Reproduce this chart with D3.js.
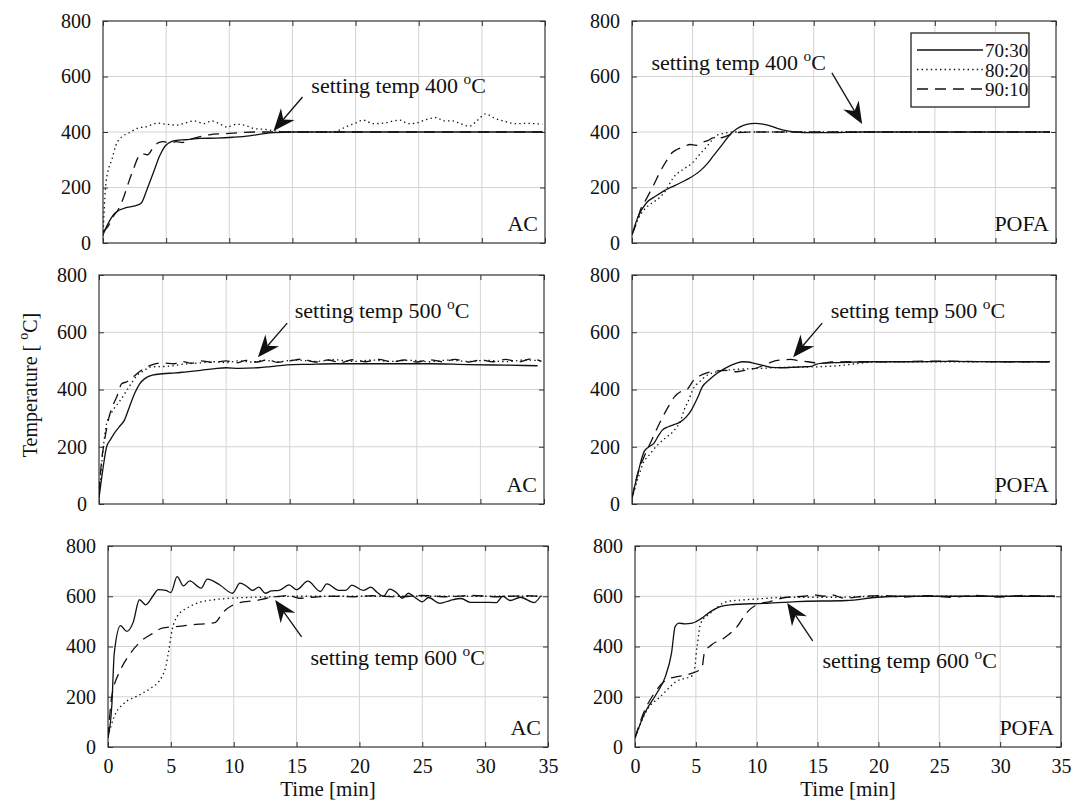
<!DOCTYPE html>
<html>
<head>
<meta charset="utf-8">
<script src="https://cdn.jsdelivr.net/npm/d3@7"></script>
<style>
  body { margin: 0; background: #fff; }
  svg text { font-family: "Liberation Serif", "Times New Roman", serif; fill: #111; }
</style>
</head>
<body>
<script>
// categories
const ratios = ["70:30", "80:20", "90:10"];
const materials = ["AC", "POFA"];
const setTemps = [400, 500, 600];
const xTicks = [0, 5, 10, 15, 20, 25, 30, 35];
const yTicks = [0, 200, 400, 600, 800];

// AC, 400 C   [time min, temp C]
const ac400_7030 = [[0,30],[0.4,70],[1,110],[1.9,128],[2.6,135],[3,142],[3.5,195],[4,255],[4.5,315],[5,353],[5.8,370],[6.5,372],[7.7,377],[9,378],[10.3,381],[11.6,386],[12.5,392],[13.5,398],[15,400],[20,400],[25,400],[30,400],[34.8,400]];
const ac400_8020 = [[0,25],[0.2,200],[0.4,260],[0.7,300],[1,350],[1.5,383],[2,395],[2.7,413],[3.5,420],[4.3,432],[5,428],[5.8,425],[6.5,432],[7.2,440],[8,430],[8.6,440],[9.2,430],[9.8,418],[10.6,428],[11.4,422],[12,412],[12.7,410],[13.5,405],[14.5,400],[16,400],[18,400],[18.6,405],[19.3,420],[20,432],[20.6,443],[21.4,430],[22.2,432],[23,440],[23.5,443],[24.2,430],[24.8,432],[25.6,445],[26.4,452],[27,440],[27.7,440],[28.3,430],[29,421],[29.6,440],[30.3,465],[31,450],[31.9,437],[32.7,430],[33.5,431],[34.8,428]];
const ac400_9010 = [[0,40],[0.4,60],[0.8,95],[1.2,120],[1.6,160],[2,215],[2.4,265],[2.8,310],[3.1,322],[3.5,318],[4,345],[4.4,362],[4.8,365],[5.3,360],[5.8,365],[6.3,362],[6.8,372],[7.4,380],[8.4,390],[10,395],[11,398],[12,400],[20,400],[30,400],[34.8,400]];

// POFA, 400 C
const pofa400_7030 = [[0,30],[0.5,95],[1.2,145],[2,170],[2.6,187],[3.3,202],[4,217],[4.8,235],[5.6,259],[6.2,285],[6.7,313],[7.4,352],[8.1,391],[8.6,410],[9.2,424],[9.8,430],[10.2,431],[10.8,428],[11.4,422],[12,413],[12.8,404],[14.2,398],[16.4,398],[19,400],[25,400],[30,400],[34.5,400]];
const pofa400_8020 = [[0,30],[0.5,85],[1,120],[1.5,140],[2.1,157],[2.8,190],[3.4,235],[4.2,265],[5,289],[5.6,320],[6.2,349],[6.6,370],[7,388],[7.6,395],[8.4,400],[12,400],[20,400],[34.5,400]];
const pofa400_9010 = [[0,30],[0.35,70],[0.7,120],[1.2,160],[1.8,210],[2.3,255],[2.9,300],[3.3,325],[3.7,337],[4.2,345],[4.8,355],[5.3,352],[5.8,363],[6.3,370],[6.7,379],[7.2,378],[7.8,385],[8.2,392],[8.7,398],[10,400],[20,400],[34.5,400]];

// AC, 500 C
const ac500_7030 = [[0,20],[0.3,120],[0.6,200],[0.9,225],[1.2,247],[1.6,270],[2,293],[2.4,340],[2.8,386],[3.2,420],[3.6,438],[4.2,450],[5,455],[6,458],[6.7,461],[8,467],[9,472],[10,476],[11,474],[12.5,476],[13.5,480],[14.8,486],[16.5,488],[18.5,490],[21,490],[23.7,490],[26,490],[29,487],[32,485],[34.5,483]];
const ac500_8020 = [[0,20],[0.3,180],[0.6,282],[1,320],[1.4,346],[1.8,370],[2.2,398],[2.6,425],[3,450],[3.5,465],[4.1,479],[5.4,481],[6.5,488],[8,493],[9,497],[10,494],[11,500],[12,496],[13,502],[14,497],[15.5,503],[17,498],[18.5,504],[20,498],[21.5,503],[23,498],[24.5,502],[26,497],[27.5,503],[29,498],[30.5,502],[32,497],[33.5,503],[34.8,500]];
const ac500_9010 = [[0,40],[0.2,150],[0.4,212],[0.8,305],[1.1,345],[1.4,375],[1.8,421],[2.2,427],[2.6,440],[3,456],[3.5,472],[4.1,485],[5,493],[5.9,490],[6.5,498],[7.3,492],[8,500],[9,495],[10,500],[10.8,493],[11.6,502],[12.4,496],[13.3,504],[14,495],[15,500],[16,506],[17,496],[18,503],[19,494],[20,504],[21,497],[22,505],[23,496],[24,503],[25,496],[26,504],[27,497],[28,505],[29,496],[30,503],[31,497],[32,505],[33,496],[34,507],[34.8,498]];

// POFA, 500 C
const pofa500_7030 = [[0,20],[0.5,110],[1,183],[1.4,200],[1.8,212],[2.2,240],[2.5,258],[3,270],[3.5,278],[4,287],[4.5,305],[4.9,328],[5.4,370],[5.8,409],[6.4,435],[7,456],[7.6,472],[8.2,485],[8.7,493],[9.1,497],[9.6,496],[10.1,491],[10.8,484],[11.5,477],[12.3,476],[13.1,477],[14,479],[14.8,481],[15.2,488],[15.6,491],[17,494],[17.8,495],[20,497],[23,497],[26,498],[30,497],[34.5,497]];
const pofa500_8020 = [[0,20],[0.5,90],[1,150],[1.3,165],[2.1,206],[2.8,232],[3.5,258],[4,290],[4.3,328],[4.7,365],[5,398],[5.6,428],[6.2,450],[6.8,460],[7.3,465],[8.5,470],[10.1,473],[12.3,477],[15,479],[17,483],[19.1,493],[20.2,497],[25,497],[30,497],[34.5,497]];
const pofa500_9010 = [[0,20],[0.5,110],[1,165],[1.7,230],[2.4,293],[3,340],[3.5,374],[4,392],[4.5,398],[5.1,433],[5.6,448],[6.2,458],[7,465],[7.9,467],[8.6,462],[9.3,467],[10,472],[10.9,485],[11.5,496],[12,502],[12.6,504],[13.1,505],[13.8,500],[14.5,497],[15.6,491],[16.5,496],[18,497],[21,497],[25,499],[30,497],[34.5,497]];

// AC, 600 C
const ac600_7030 = [[0,36],[0.3,162],[0.5,374],[1,483],[1.5,460],[2,496],[2.5,586],[3,566],[3.6,603],[4,626],[4.6,623],[5,615],[5.5,678],[6,641],[6.5,661],[7.4,632],[7.9,668],[8.9,645],[9.9,612],[10.5,652],[11,641],[11.5,623],[12,636],[12.5,612],[13,621],[13.6,623],[14.4,645],[15,626],[15.9,660],[16.9,619],[17.4,649],[18.4,623],[18.9,623],[19.4,644],[20.3,623],[20.9,636],[21.4,616],[21.9,600],[22.4,628],[23,612],[23.4,592],[23.9,612],[24.4,596],[25,578],[25.5,595],[26.4,572],[27.2,583],[28.1,591],[28.8,576],[29.7,576],[30.9,575],[31.4,600],[32,583],[32.8,596],[33.9,575],[34.4,600]];
const ac600_8020 = [[0,42],[0.5,122],[1.3,175],[2.3,202],[3.4,234],[4,258],[4.3,281],[4.6,320],[4.8,374],[5.1,466],[5.5,520],[6.3,553],[7.3,576],[8.4,586],[9.4,591],[11,595],[13,598],[15,600],[20,600],[25,600],[30,600],[34.5,600]];
const ac600_9010 = [[0,36],[0.3,201],[1,307],[1.8,374],[2.6,420],[3.6,453],[4.3,473],[5.3,479],[6,482],[6.5,486],[7.3,489],[8.5,495],[9.2,539],[9.8,561],[10.5,575],[11,579],[11.8,583],[12.6,592],[13.1,596],[14.4,603],[15.2,592],[16.3,596],[17.8,600],[19.5,598],[21,602],[23,597],[25,603],[27,598],[29,603],[31,598],[33,602],[34.5,600]];

// POFA, 600 C
const pofa600_7030 = [[0,36],[0.8,135],[1.8,215],[2.5,281],[3,374],[3.3,480],[3.6,493],[4.1,490],[4.7,493],[5.4,510],[6.2,539],[7,559],[7.8,566],[10.6,572],[13.3,579],[17.4,583],[19.9,596],[22,600],[25,600],[30,600],[34.5,600]];
const pofa600_8020 = [[0,36],[1,148],[2.1,201],[3.4,261],[4.8,287],[5.1,400],[5.4,493],[6.2,533],[7.6,579],[10,589],[12.8,596],[16.1,596],[20.2,600],[25,600],[30,600],[34.5,600]];
const pofa600_9010 = [[0,36],[0.7,135],[1.6,215],[2.6,268],[3.6,281],[4.5,291],[5.5,314],[5.7,374],[6.3,407],[7.3,433],[8.4,480],[9.2,536],[10,566],[11.1,579],[12.5,596],[13.9,600],[14.6,606],[15.5,600],[16.1,606],[17.2,592],[18.8,600],[20.5,603],[22,597],[24,602],[26,596],[28,603],[30,597],[32,603],[34.5,599]];

// arrow annotations: [tip t, tip T, tail t, tail T, text t, text T]
const notes = [
  [13.5, 404, 15.8, 526, 16.5, 540],
  [19.0, 429, 16.5, 613, 1.6, 623],
  [12.5, 513, 14.8, 632, 15.4, 650],
  [13.3, 513, 15.7, 632, 16.4, 650],
  [13.3, 585, 15.4, 438, 16.1, 326],
  [12.5, 573, 14.6, 422, 15.4, 314]
];

const series = [
  [ac400_7030, ac400_8020, ac400_9010],
  [pofa400_7030, pofa400_8020, pofa400_9010],
  [ac500_7030, ac500_8020, ac500_9010],
  [pofa500_7030, pofa500_8020, pofa500_9010],
  [ac600_7030, ac600_8020, ac600_9010],
  [pofa600_7030, pofa600_8020, pofa600_9010]
];

// panel boxes as measured on the figure: left, top, right, bottom
const boxes = [
  [103, 21, 545, 243], [632, 21, 1056, 243],
  [99, 275, 544, 504], [632, 275, 1056, 504],
  [108, 546, 548, 747], [635, 546, 1061, 747]
];

const dashes = [null, "1.4 3.2", "11 7"];

const svg = d3.select("body").append("svg")
  .attr("width", 1072).attr("height", 804);

function sup(sel, before, after) {
  sel.append("tspan").text(before);
  sel.append("tspan").attr("dy", -9).attr("font-size", "0.7em").text("o");
  sel.append("tspan").attr("dy", 9).text(after);
}

boxes.forEach((b, i) => {
  const [x0, y0, x1, y1] = b;
  const x = d3.scaleLinear().domain([0, 35]).range([x0, x1]);
  const y = d3.scaleLinear().domain([0, 800]).range([y1, y0]);
  const g = svg.append("g");
  const row = Math.floor(i / 2);

  // grid
  g.selectAll(".gx").data(xTicks.slice(1, -1)).enter().append("line")
    .attr("x1", d => x(d)).attr("x2", d => x(d)).attr("y1", y0).attr("y2", y1)
    .attr("stroke", "#d4d4d4").attr("stroke-width", 1);
  g.selectAll(".gy").data(yTicks.slice(1, -1)).enter().append("line")
    .attr("x1", x0).attr("x2", x1).attr("y1", d => y(d)).attr("y2", d => y(d))
    .attr("stroke", "#d4d4d4").attr("stroke-width", 1);

  // axes with inward ticks on all sides
  const fmt = row === 2 ? d3.format("d") : () => "";
  g.append("g").attr("transform", `translate(0,${y1})`)
    .call(d3.axisBottom(x).tickValues(xTicks).tickSizeInner(-5).tickSizeOuter(0).tickPadding(12).tickFormat(fmt));
  g.append("g").attr("transform", `translate(0,${y0})`)
    .call(d3.axisTop(x).tickValues(xTicks).tickSizeInner(-5).tickSizeOuter(0).tickFormat(""));
  g.append("g").attr("transform", `translate(${x0},0)`)
    .call(d3.axisLeft(y).tickValues(yTicks).tickSizeInner(-5).tickSizeOuter(0).tickPadding(12));
  g.append("g").attr("transform", `translate(${x1},0)`)
    .call(d3.axisRight(y).tickValues(yTicks).tickSizeInner(-5).tickSizeOuter(0).tickFormat(""));
  g.selectAll(".domain").remove();
  g.selectAll(".tick line").attr("stroke", "#333");
  g.selectAll(".tick text").attr("font-size", 20).attr("font-family", "Liberation Serif").attr("fill", "#111");

  g.append("rect").attr("x", x0).attr("y", y0).attr("width", x1 - x0).attr("height", y1 - y0)
    .attr("fill", "none").attr("stroke", "#333").attr("stroke-width", 1.2);

  // curves
  const clipId = "clip" + i;
  svg.append("clipPath").attr("id", clipId).append("rect")
    .attr("x", x0).attr("y", y0).attr("width", x1 - x0).attr("height", y1 - y0);
  const line = d3.line().x(d => x(d[0])).y(d => y(d[1])).curve(d3.curveMonotoneX);
  g.append("g").attr("clip-path", `url(#${clipId})`)
    .selectAll("path").data(series[i]).enter().append("path")
    .attr("d", line)
    .attr("fill", "none").attr("stroke", "#111").attr("stroke-width", 1.3)
    .attr("stroke-dasharray", (d, k) => dashes[k]);

  // material label
  g.append("text").attr("x", x1 - 7).attr("y", y1 - 12).attr("text-anchor", "end")
    .attr("font-size", 22).text(materials[i % 2]);

  // arrow + text
  const n = notes[i];
  const tip = [x(n[0]), y(n[1])], tail = [x(n[2]), y(n[3])];
  const dx = tip[0] - tail[0], dy = tip[1] - tail[1];
  const len = Math.hypot(dx, dy), ux = dx / len, uy = dy / len;
  const hl = 22, hw = 9, notch = 15;
  g.append("line").attr("x1", tail[0]).attr("y1", tail[1])
    .attr("x2", tip[0] - ux * notch).attr("y2", tip[1] - uy * notch)
    .attr("stroke", "#111").attr("stroke-width", 1.3);
  const bx = tip[0] - ux * hl, by = tip[1] - uy * hl;
  const pts = [
    tip,
    [bx - uy * hw, by + ux * hw],
    [tip[0] - ux * notch, tip[1] - uy * notch],
    [bx + uy * hw, by - ux * hw]
  ];
  g.append("polygon").attr("points", pts.map(p => p.join(",")).join(" ")).attr("fill", "#111");
  const t = g.append("text").attr("x", x(n[4])).attr("y", y(n[5])).attr("font-size", 22);
  sup(t, `setting temp ${setTemps[row]} `, "C");

  if (row === 2) {
    g.append("text").attr("x", (x0 + x1) / 2).attr("y", 796).attr("text-anchor", "middle")
      .attr("font-size", 21).text("Time [min]");
  }
});

// y label
const yl = svg.append("text").attr("transform", "translate(37,385) rotate(-90)")
  .attr("text-anchor", "middle").attr("font-size", 20);
sup(yl, "Temperature [ ", "C]");

// legend in the POFA 400 panel
const lg = svg.append("g");
lg.append("rect").attr("x", 911).attr("y", 33).attr("width", 118).attr("height", 74)
  .attr("fill", "#fff").attr("stroke", "#111").attr("stroke-width", 1.2);
lg.selectAll(".li").data(ratios).enter().append("line")
  .attr("x1", 917).attr("x2", 983)
  .attr("y1", (d, k) => 50 + k * 19.5).attr("y2", (d, k) => 50 + k * 19.5)
  .attr("stroke", "#111").attr("stroke-width", 1.3)
  .attr("stroke-dasharray", (d, k) => dashes[k]);
lg.selectAll(".lt").data(ratios).enter().append("text")
  .attr("x", 985).attr("y", (d, k) => 57 + k * 19.5)
  .attr("font-size", 19).text(d => d);
</script>
</body>
</html>
